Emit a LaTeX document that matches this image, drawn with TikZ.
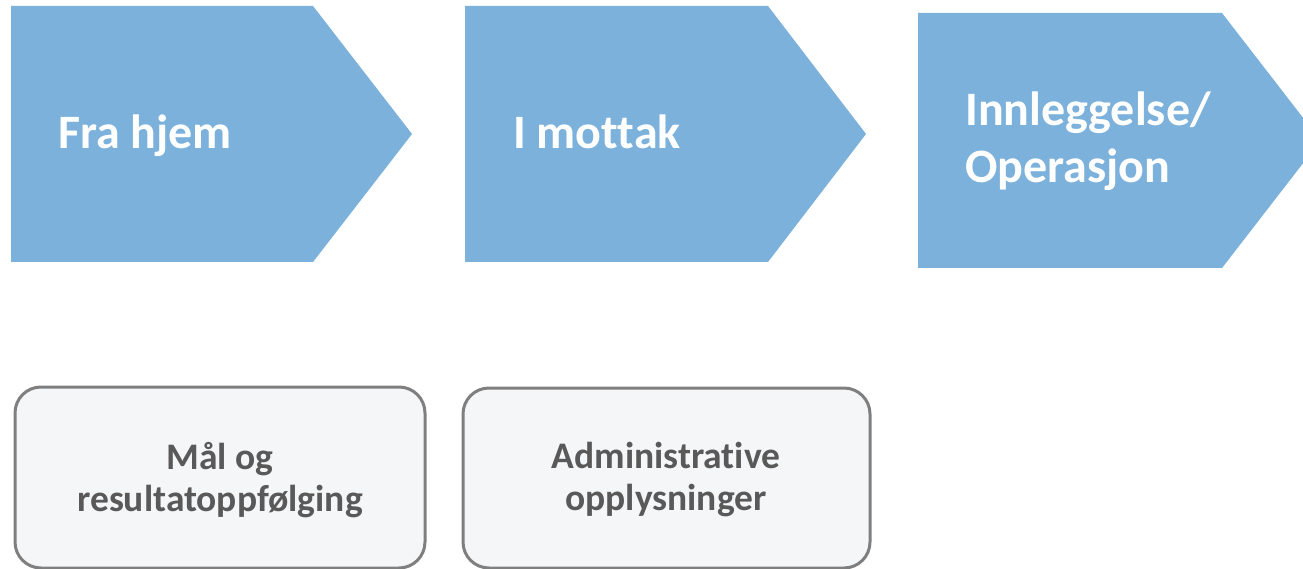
\documentclass[tikz,border=0pt]{standalone}
\usepackage{fontspec}
\setmainfont{Carlito}[Ligatures=NoCommon]
\definecolor{arrowblue}{HTML}{7BB1DB}
\definecolor{boxfill}{HTML}{F5F6F8}
\definecolor{boxline}{HTML}{7F7F7F}
\definecolor{boxtext}{HTML}{595959}
\tikzset{
  stage/.style={fill=arrowblue, draw=none},
  stagetext/.style={text=white, font=\fontsize{48}{57}\selectfont\bfseries, inner sep=0pt, align=left},
  infobox/.style={draw=boxline, line width=3pt, fill=boxfill, rounded corners=26pt},
  infotext/.style={text=boxtext, font=\fontsize{37.5}{42}\selectfont\bfseries, inner sep=0pt, align=center}
}
\begin{document}
\begin{tikzpicture}[x=1pt,y=-1pt]
\useasboundingbox (0,0) rectangle (1303,569);
\begin{scope}
\clip (0,0) rectangle (1303,569);
% stage arrows
\fill[stage] (11,6) -- (313,6) -- (412,134) -- (313,262) -- (11,262) -- cycle;
\fill[stage] (465,6) -- (768,6) -- (866,134) -- (768,262) -- (465,262) -- cycle;
\fill[stage] (918,13) -- (1222,13) -- (1320.6,140.5) -- (1222,268) -- (918,268) -- cycle;
\node[stagetext, anchor=base west] (t1) at (58,149) {Fra hjem};
\node[stagetext, anchor=base west] (t2) at (513,149) {I mottak};
\node[stagetext, anchor=base west] (t3a) at (965,126) {Innleggelse/};
\node[stagetext, anchor=base west] (t3b) at (965,183) {Operasjon};
% info boxes
\draw[infobox] (15,387) rectangle (425,568);
\draw[infobox] (463,388) rectangle (870,568);
\node[infotext] (b1) at (220,480) {Mål og\\resultatoppfølging};
\node[infotext] (b2) at (666,480) {Administrative\\opplysninger};
\end{scope}
\end{tikzpicture}
\end{document}
